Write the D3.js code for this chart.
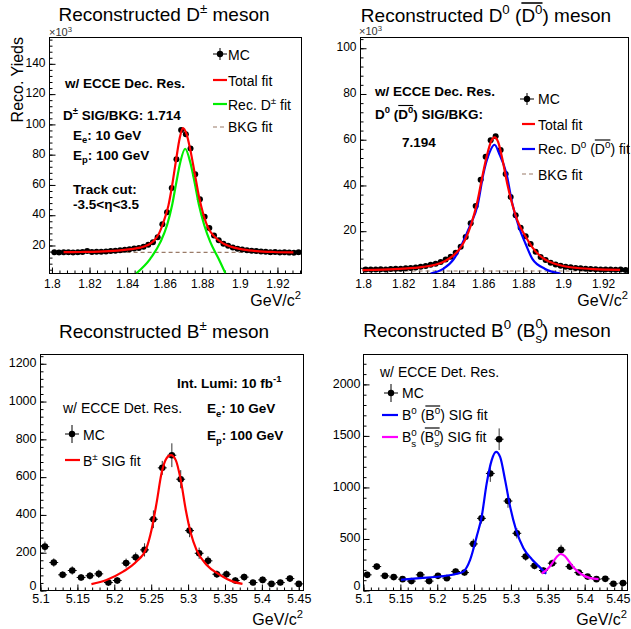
<!DOCTYPE html>
<html>
<head>
<meta charset="utf-8">
<script src="https://cdn.jsdelivr.net/npm/d3@7"></script>
<style>
  body { margin: 0; background: #fff; }
  svg text { font-family: "Liberation Sans", Arial, Helvetica, sans-serif; }
</style>
</head>
<body>
<div id="chart"></div>
<script>
// ----------------- Data -----------------

// D mesons: bin centres (GeV/c^2), counts in units of 10^3
var dBins = [1.80125, 1.80375, 1.80625, 1.80875, 1.81125, 1.81375, 1.81625, 1.81875, 1.82125, 1.82375,
             1.82625, 1.82875, 1.83125, 1.83375, 1.83625, 1.83875, 1.84125, 1.84375, 1.84625, 1.84875,
             1.85125, 1.85375, 1.85625, 1.85875, 1.86125, 1.86375, 1.86625, 1.86875, 1.87125, 1.87375,
             1.87625, 1.87875, 1.88125, 1.88375, 1.88625, 1.88875, 1.89125, 1.89375, 1.89625, 1.89875,
             1.90125, 1.90375, 1.90625, 1.90875, 1.91125, 1.91375, 1.91625, 1.91875, 1.92125, 1.92375,
             1.92625, 1.92875, 1.93125];
var dPlusCounts = [15.5, 15.4, 15.5, 15.6, 15.4, 15.6, 15.7, 16.3, 15.7, 15.8,
                   15.9, 16.0, 16.3, 16.6, 16.8, 17.2, 17.5, 18.0, 18.3, 19.2,
                   20.5, 22.2, 25.5, 34.0, 42.0, 58.0, 77.0, 96.3, 93.5, 84.0,
                   67.0, 50.5, 39.0, 31.5, 26.6, 23.5, 21.2, 19.8, 18.7, 17.9,
                   17.3, 16.9, 16.6, 16.3, 16.0, 15.8, 15.6, 15.7, 15.4, 15.5,
                   15.3, 15.2, 15.6];
var dZeroCounts = [3.2, 3.3, 3.2, 3.4, 3.3, 3.5, 3.6, 3.6, 3.8, 3.9,
                   4.1, 4.5, 4.8, 5.3, 5.8, 6.5, 7.6, 8.8, 10.6, 13.2,
                   17.5, 23.5, 31.0, 42.5, 52.5, 59.8, 61.5, 55.5, 45.0, 35.0,
                   27.0, 21.5, 17.8, 14.4, 11.0, 8.7, 7.4, 6.2, 5.4, 4.9,
                   4.5, 4.2, 3.9, 3.8, 3.6, 3.5, 3.4, 3.3, 3.3, 3.2,
                   3.1, 3.2, 3.0];

// D+- fit curves
var dPlusTotalX = [1.8062, 1.815, 1.825, 1.835, 1.842, 1.847, 1.851, 1.854, 1.857, 1.8595, 1.862, 1.864, 1.866, 1.868, 1.8697,
                   1.8715, 1.8735, 1.876, 1.8783, 1.8807, 1.883, 1.886, 1.8896, 1.8932, 1.897, 1.902, 1.909, 1.918, 1.9285];
var dPlusTotalY = [15.6, 15.7, 15.9, 16.6, 17.6, 18.6, 20.3, 22.8, 28, 36, 46.5, 60, 76, 91, 97.5,
                   94, 84, 67.5, 52, 40, 32, 26.5, 22.6, 20.1, 18.6, 17.3, 16.3, 15.7, 15.4];
var dPlusSigX = [1.8449, 1.8523, 1.8577, 1.8612, 1.8639, 1.8662, 1.8683, 1.8709, 1.8736, 1.8759, 1.8783, 1.8811, 1.8843, 1.8887, 1.8923];
var dPlusSigY = [1.6, 11.2, 22.2, 33.2, 46.4, 61.8, 75, 83.9, 75, 61.8, 46.4, 33.2, 22.2, 11.2, 1.6];
var dPlusBkgX = [1.8062, 1.9328];
var dPlusBkgY = [15.5, 15.4];

// D0 fit curves
var dZeroTotalX = [1.7997, 1.81, 1.82, 1.83, 1.836, 1.841, 1.845, 1.848, 1.851, 1.854, 1.857, 1.8595, 1.862, 1.864, 1.8657,
                   1.8675, 1.8695, 1.872, 1.8745, 1.877, 1.880, 1.8825, 1.885, 1.888, 1.891, 1.895, 1.90, 1.907, 1.915, 1.9285];
var dZeroTotalY = [3.0, 3.2, 3.6, 4.4, 5.3, 7.0, 9.3, 12.0, 16.3, 23.0, 32.5, 43.5, 53.5, 59.3, 61,
                   59, 52, 41, 32, 25, 19.5, 15.8, 12.5, 9.6, 7.6, 6.0, 4.8, 3.9, 3.4, 3.1];
var dZeroSigX = [1.8337, 1.840, 1.8454, 1.8495, 1.853, 1.8574, 1.8601, 1.863, 1.8657, 1.868, 1.8717, 1.8746, 1.878, 1.8812, 1.8846, 1.891, 1.8987];
var dZeroSigY = [1.5, 3.5, 7.9, 14.5, 21.5, 32, 45, 54, 57.8, 54, 45, 32, 21.5, 14.5, 7.9, 3.5, 1.5];
var dZeroBkgX = [1.7997, 1.9327];
var dZeroBkgY = [2.6, 2.6];

// B+- : bin centres, counts, errors, signal fit
var bPlusBins = [5.106, 5.118, 5.130, 5.143, 5.155, 5.167, 5.179, 5.192, 5.204, 5.216, 5.229, 5.241, 5.253, 5.265, 5.278,
                 5.290, 5.302, 5.315, 5.327, 5.339, 5.352, 5.364, 5.376, 5.388, 5.401, 5.413, 5.425, 5.438, 5.450];
var bPlusCounts = [232, 148, 83, 106, 69, 78, 88, 42, 53, 145, 176, 215, 377, 649, 716,
                   589, 317, 197, 157, 86, 86, 53, 71, 42, 56, 35, 42, 63, 35];
var bPlusErrors = [27, 22, 18, 22, 18, 20, 22, 18, 18, 24, 25, 35, 47, 37, 63,
                   48, 35, 30, 25, 20, 20, 18, 18, 15, 18, 15, 15, 18, 15];
var bPlusSigX = [5.169, 5.1894, 5.2119, 5.23, 5.2436, 5.2504, 5.2572, 5.264, 5.2707, 5.2766,
                 5.2833, 5.2901, 5.2969, 5.3037, 5.3114, 5.3249, 5.343, 5.361, 5.3737];
var bPlusSigY = [34, 56, 100, 153, 224, 320, 461, 620, 699, 716, 690, 584, 426, 303, 215, 136, 83, 47, 35];

// B0 / Bs : bin centres, counts, errors, signal fits
var bZeroBins = [5.105, 5.118, 5.129, 5.141, 5.153, 5.165, 5.177, 5.189, 5.201, 5.213, 5.225, 5.237, 5.249, 5.260, 5.272,
                 5.284, 5.296, 5.308, 5.320, 5.332, 5.344, 5.356, 5.368, 5.380, 5.392, 5.404, 5.416, 5.428, 5.439, 5.452];
var bZeroCounts = [152, 232, 142, 130, 110, 91, 152, 91, 142, 120, 184, 174, 452, 700, 1136,
                   1468, 868, 555, 329, 239, 194, 265, 394, 232, 174, 135, 110, 113, 65, 72];
var bZeroErrors = [30, 30, 25, 25, 25, 22, 28, 22, 28, 25, 30, 30, 50, 50, 82,
                   105, 65, 50, 40, 32, 30, 35, 50, 32, 28, 25, 22, 22, 20, 20];
var bZeroSigX = [5.1508, 5.1766, 5.2038, 5.2264, 5.2355, 5.2446, 5.2535, 5.2603, 5.2671, 5.2739,
                 5.2799, 5.2853, 5.2921, 5.2989, 5.307, 5.317, 5.3283, 5.3374, 5.3478];
var bZeroSigY = [104, 120, 136, 162, 184, 297, 523, 716, 1039, 1265, 1345, 1297, 1071, 813, 587, 410, 304, 239, 162];
var bsSigX = [5.3418, 5.350, 5.357, 5.3625, 5.3675, 5.373, 5.379, 5.386, 5.395, 5.4076, 5.4189];
var bsSigY = [165, 210, 275, 330, 354, 335, 280, 215, 160, 120, 110];

// Tick labels
var dTicksX = [1.8, 1.82, 1.84, 1.86, 1.88, 1.9, 1.92];
var dPlusTicksY = [20, 40, 60, 80, 100, 120, 140];
var dZeroTicksY = [20, 40, 60, 80, 100];
var bTicksX = [5.1, 5.15, 5.2, 5.25, 5.3, 5.35, 5.4, 5.45];
var bPlusTicksY = [0, 200, 400, 600, 800, 1000, 1200];
var bZeroTicksY = [0, 500, 1000, 1500, 2000];

// ----------------- SVG container -----------------
var svgWidth = 631;
var svgHeight = 629;

var svg = d3.select("#chart").append("svg")
            .attr("width", svgWidth)
            .attr("height", svgHeight);

svg.append("rect").attr("width", svgWidth).attr("height", svgHeight).attr("fill", "#fff");

// ----------------- Helpers -----------------

// Tiny TLatex-like writer: ^{..} sup, _{..} sub, _{..}^{..} stacked, #bar{..} overline
function latex(sel, str, x, y, opt) {
  str = str.replace(/#pm/g, "\u00b1").replace(/#eta/g, "\u03b7").replace(/#times/g, "\u00d7");
  var size = opt.size;
  var text = sel.append("text")
                .attr("x", x)
                .attr("y", y)
                .attr("font-size", size)
                .attr("font-weight", opt.weight || "normal")
                .attr("text-anchor", opt.anchor || "start")
                .attr("fill", opt.fill || "#000");
  if (opt.transform) text.attr("transform", opt.transform);
  var shift = 0, nChars = 0, bars = [], barStart = -1, buf = "";
  var supDy = -(opt.supShift || 0.42) * size, subDy = 0.28 * size, small = 0.7 * size;

  function put(s, dy, fs, dx) {
    if (!s) return null;
    var t = text.append("tspan").attr("dy", dy - shift).text(s);
    if (fs) t.attr("font-size", fs);
    if (dx) t.attr("dx", dx);
    shift = dy;
    nChars += s.length;
    return t;
  }
  function flush() { put(buf, 0); buf = ""; }
  function group(i) {
    var j = str.indexOf("}", i);
    return [str.slice(i + 1, j), j + 1];
  }

  var i = 0;
  while (i < str.length) {
    var c = str[i];
    if (str.startsWith("#bar{", i)) { flush(); barStart = nChars; i += 5; continue; }
    if (c === "}" && barStart >= 0) { flush(); bars.push([barStart, nChars - 1]); barStart = -1; i++; continue; }
    if ((c === "^" || c === "_") && str[i + 1] === "{") {
      flush();
      var g = group(i + 1);
      if (c === "_" && str.startsWith("^{", g[1])) {
        // stacked sub + sup: push them a little further apart
        var g2 = group(g[1] + 1);
        var sup = put(g2[0], supDy - 0.04 * size, small);
        var w = sup.node().getComputedTextLength();
        put(g[0], subDy + 0.06 * size, small, -w);
        i = g2[1];
      } else {
        put(g[0], c === "^" ? supDy : subDy, small);
        i = g[1];
      }
      continue;
    }
    buf += c;
    i++;
  }
  flush();

  // overlines
  bars.forEach(function(b) {
    var node = text.node(), x0 = Infinity, x1 = -Infinity;
    for (var k = b[0]; k <= b[1]; k++) {
      x0 = Math.min(x0, node.getStartPositionOfChar(k).x);
      x1 = Math.max(x1, node.getEndPositionOfChar(k).x);
    }
    sel.append("line")
       .attr("x1", x0).attr("x2", x1)
       .attr("y1", y - 1.0 * size).attr("y2", y - 1.0 * size)
       .attr("stroke", opt.fill || "#000")
       .attr("stroke-width", Math.max(1, size / 12));
  });
  return text;
}

// Build one ROOT-like frame with axes, returns the scales
function makeFrame(id, box, xDomain, yDomain, xTicks, xMinorStep, yTicks, yMinorStep, opt) {
  var x = d3.scaleLinear().domain(xDomain).range([box.left, box.right]);
  var y = d3.scaleLinear().domain(yDomain).range([box.bottom, box.top]);

  // minor ticks
  var xMinor = d3.range(Math.ceil(xDomain[0] / xMinorStep), Math.floor(xDomain[1] / xMinorStep) + 1)
                 .map(function(k) { return +(k * xMinorStep).toFixed(4); });
  var yMinor = d3.range(Math.ceil(yDomain[0] / yMinorStep), Math.floor(yDomain[1] / yMinorStep) + 1)
                 .map(function(k) { return k * yMinorStep; });

  var fontAttrs = function(g) {
    g.attr("font-family", null).attr("font-size", null);
    g.select(".domain").remove();
    g.selectAll("line").attr("stroke", "#000");
    g.selectAll("text").attr("fill", "#000").attr("font-size", opt.tickFont);
  };

  svg.append("g").attr("transform", `translate(0, ${box.bottom})`)
     .call(d3.axisBottom(x).tickValues(xMinor).tickSize(-3).tickFormat(""))
     .call(fontAttrs);
  svg.append("g").attr("transform", `translate(0, ${box.bottom})`)
     .call(d3.axisBottom(x).tickValues(xTicks).tickSize(-6).tickPadding(opt.xPad)
             .tickFormat(function(d) { return String(+d.toFixed(2)); }))
     .call(fontAttrs)
     // keep the last label inside the picture
     .call(function(g) {
       g.selectAll("text").each(function(d) {
         var overflow = x(d) + this.getComputedTextLength() / 2 - (svgWidth - 1);
         if (overflow > 0) d3.select(this).attr("dx", -overflow);
       });
     });
  svg.append("g").attr("transform", `translate(${box.left}, 0)`)
     .call(d3.axisLeft(y).tickValues(yMinor).tickSize(-3).tickFormat(""))
     .call(fontAttrs);
  svg.append("g").attr("transform", `translate(${box.left}, 0)`)
     .call(d3.axisLeft(y).tickValues(yTicks).tickSize(-6).tickPadding(opt.yPad)
             .tickFormat(function(d) { return String(d); }))
     .call(fontAttrs)
     // the "0" label sits a bit higher so it clears the x labels
     .call(function(g) { g.selectAll("text").attr("dy", function(d) { return d === 0 ? "-0.05em" : "0.22em"; }); });

  // frame
  svg.append("rect")
     .attr("x", box.left).attr("y", box.top)
     .attr("width", box.right - box.left).attr("height", box.bottom - box.top)
     .attr("fill", "none").attr("stroke", "#000").attr("stroke-width", 1);

  svg.append("clipPath").attr("id", id)
     .append("rect")
     .attr("x", box.left).attr("y", box.top)
     .attr("width", box.right - box.left).attr("height", box.bottom - box.top);

  return { x: x, y: y, clip: `url(#${id})` };
}

function drawCurve(f, xs, ys, color, dash) {
  var pts = xs.map(function(v, i) { return [v, ys[i]]; });
  var line = d3.line()
               .x(function(d) { return f.x(d[0]); })
               .y(function(d) { return f.y(d[1]); })
               .curve(d3.curveMonotoneX);
  svg.append("path")
     .attr("d", line(pts))
     .attr("clip-path", f.clip)
     .attr("fill", "none")
     .attr("stroke", color)
     .attr("stroke-width", dash ? 1.2 : 2.2)
     .attr("stroke-dasharray", dash ? "4,3" : null);
}

function drawPoints(f, xs, ys, errs, halfBin, r) {
  var g = svg.append("g").attr("clip-path", f.clip);
  xs.forEach(function(v, i) {
    g.append("line")
     .attr("x1", f.x(v - halfBin)).attr("x2", f.x(v + halfBin))
     .attr("y1", f.y(ys[i])).attr("y2", f.y(ys[i]))
     .attr("stroke", "#000");
    if (errs) {
      g.append("line")
       .attr("x1", f.x(v)).attr("x2", f.x(v))
       .attr("y1", f.y(ys[i] - errs[i])).attr("y2", f.y(ys[i] + errs[i]))
       .attr("stroke", "#333");
    }
    g.append("circle")
     .attr("cx", f.x(v)).attr("cy", f.y(ys[i]))
     .attr("r", r).attr("fill", "#000");
  });
}

// legend pieces
function legendMarker(cx, cy, vlen) {
  svg.append("line").attr("x1", cx - 7).attr("x2", cx + 7).attr("y1", cy).attr("y2", cy).attr("stroke", "#000");
  svg.append("line").attr("x1", cx).attr("x2", cx).attr("y1", cy - vlen).attr("y2", cy + vlen).attr("stroke", "#000");
  svg.append("circle").attr("cx", cx).attr("cy", cy).attr("r", 3.2).attr("fill", "#000");
}
function legendLine(x1, x2, cy, color, dash) {
  svg.append("line").attr("x1", x1).attr("x2", x2).attr("y1", cy).attr("y2", cy)
     .attr("stroke", color)
     .attr("stroke-width", dash ? 1.2 : 2.2)
     .attr("stroke-dasharray", dash ? "4,3" : null);
}

var bold = { size: 13.5, weight: "bold" };
var leg = { size: 14 };
var titleFont = { size: 19, anchor: "middle" };

// ----------------- Panel 1: D+- -----------------
var p1 = makeFrame("clip1", { left: 49.5, right: 301.5, top: 37.5, bottom: 273.5 },
                   [1.7987, 1.9328], [1.5, 157.4], dTicksX, 0.004, dPlusTicksY, 4,
                   { tickFont: 12, xPad: 6, yPad: 4 });
drawCurve(p1, dPlusBkgX, dPlusBkgY, "#9a7b68", true);
drawPoints(p1, dBins, dPlusCounts, null, 0.00125, 3);
drawCurve(p1, dPlusSigX, dPlusSigY, "#00ee00");
drawCurve(p1, dPlusTotalX, dPlusTotalY, "#ff0000");

latex(svg, "Reconstructed D^{#pm} meson", 164, 21, titleFont);
latex(svg, "#times10^{3}", 49, 35.5, { size: 11, fill: "#333", supShift: 0.32 });
latex(svg, "Reco. Yieds", 0, 0, { size: 16, anchor: "end", transform: "translate(23, 37) rotate(-90)" });
latex(svg, "GeV/c^{2}", 301, 306, { size: 16, anchor: "end" });
latex(svg, "w/ ECCE Dec. Res.", 65, 88, bold);
latex(svg, "D^{#pm} SIG/BKG: 1.714", 63, 120, bold);
latex(svg, "E_{e}: 10 GeV", 73, 139.5, bold);
latex(svg, "E_{p}: 100 GeV", 73, 159.5, bold);
latex(svg, "Track cut:", 73, 194, bold);
latex(svg, "-3.5<#eta<3.5", 73, 209, bold);

legendMarker(220, 54, 6);
latex(svg, "MC", 228, 60, leg);
legendLine(213, 227, 80, "#ff0000");
latex(svg, "Total fit", 228, 86, leg);
legendLine(213, 227, 104, "#00ee00");
latex(svg, "Rec. D^{#pm} fit", 228, 110, leg);
legendLine(213, 227, 127, "#9a7b68", true);
latex(svg, "BKG fit", 228, 131.5, leg);

// ----------------- Panel 2: D0 -----------------
var p2 = makeFrame("clip2", { left: 360.5, right: 628.5, top: 37.5, bottom: 273.5 },
                   [1.79865, 1.9327], [1.5, 104.7], dTicksX, 0.004, dZeroTicksY, 4,
                   { tickFont: 12, xPad: 6, yPad: 4 });
drawCurve(p2, dZeroBkgX, dZeroBkgY, "#9a7b68", true);
drawPoints(p2, dBins, dZeroCounts, null, 0.00125, 3);
drawCurve(p2, dZeroSigX, dZeroSigY, "#0000ff");
drawCurve(p2, dZeroTotalX, dZeroTotalY, "#ff0000");

latex(svg, "Reconstructed D^{0} (#bar{D^{0}}) meson", 486, 22, titleFont);
latex(svg, "#times10^{3}", 359, 35, { size: 11, fill: "#333", supShift: 0.32 });
latex(svg, "GeV/c^{2}", 628, 306, { size: 16, anchor: "end" });
latex(svg, "w/ ECCE Dec. Res.", 375, 96, bold);
latex(svg, "D^{0} (#bar{D^{0}}) SIG/BKG:", 375, 119, bold);
latex(svg, "7.194", 402, 146.5, bold);

legendMarker(527, 99, 6);
latex(svg, "MC", 538, 104, leg);
legendLine(522, 535, 124, "#ff0000");
latex(svg, "Total fit", 538, 129.5, leg);
legendLine(522, 535, 149, "#0000ff");
latex(svg, "Rec. D^{0} (#bar{D^{0}}) fit", 538, 154, leg);
legendLine(522, 535, 174, "#9a7b68", true);
latex(svg, "BKG fit", 538, 180, leg);

// ----------------- Panel 3: B+- -----------------
var p3 = makeFrame("clip3", { left: 40.5, right: 303.5, top: 354.5, bottom: 590.5 },
                   [5.1, 5.4564], [0, 1249], bTicksX, 0.01, bPlusTicksY, 40,
                   { tickFont: 12.5, xPad: 4, yPad: 4 });
drawPoints(p3, bPlusBins, bPlusCounts, bPlusErrors, 0.006, 3.3);
drawCurve(p3, bPlusSigX, bPlusSigY, "#ff0000");

latex(svg, "Reconstructed B^{#pm} meson", 164, 338, titleFont);
latex(svg, "GeV/c^{2}", 303, 625, { size: 16, anchor: "end" });
latex(svg, "Int. Lumi: 10 fb^{-1}", 177, 388, bold);
latex(svg, "E_{e}: 10 GeV", 207, 413, bold);
latex(svg, "E_{p}: 100 GeV", 207, 440, bold);
latex(svg, "w/ ECCE Det. Res.", 63, 413, leg);

legendMarker(72, 434, 9);
latex(svg, "MC", 83, 439.5, leg);
legendLine(65, 80, 460, "#ff0000");
latex(svg, "B^{#pm} SIG fit", 83, 466, leg);

// ----------------- Panel 4: B0 / Bs -----------------
var p4 = makeFrame("clip4", { left: 363.5, right: 627.5, top: 354.5, bottom: 590.5 },
                   [5.1, 5.4581], [0, 2290], bTicksX, 0.01, bZeroTicksY, 100,
                   { tickFont: 12.5, xPad: 4, yPad: 3 });
drawPoints(p4, bZeroBins, bZeroCounts, bZeroErrors, 0.006, 3.3);
drawCurve(p4, bZeroSigX, bZeroSigY, "#0000ff");
drawCurve(p4, bsSigX, bsSigY, "#ff00ff");

latex(svg, "Reconstructed B^{0} (B_{s}^{0}) meson", 487, 337, titleFont);
latex(svg, "GeV/c^{2}", 627, 625, { size: 16, anchor: "end" });
latex(svg, "w/ ECCE Det. Res.", 380, 377, leg);

legendMarker(391, 393, 9);
latex(svg, "MC", 402, 398, leg);
legendLine(382, 398, 415, "#0000ff");
latex(svg, "B^{0} (#bar{B^{0}}) SIG fit", 402, 420, leg);
legendLine(382, 398, 437, "#ff00ff");
latex(svg, "B_{s}^{0} (#bar{B_{s}^{0}}) SIG fit", 402, 442, leg);
</script>
</body>
</html>
